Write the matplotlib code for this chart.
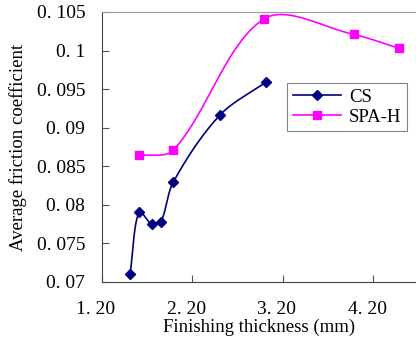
import numpy as np
import matplotlib
matplotlib.use("Agg")
import matplotlib.pyplot as plt
from matplotlib.transforms import ScaledTranslation

# data
cs_x = [1.51, 1.61, 1.75, 1.85, 1.99, 2.50, 3.01]
cs_y = [0.0710, 0.0791, 0.0775, 0.0778, 0.0830, 0.0916, 0.0959]
spa_x = [1.61, 1.99, 2.99, 3.98, 4.48]
spa_y = [0.0864, 0.0871, 0.1041, 0.1021, 0.1003]

xticks = [1.2, 2.2, 3.2, 4.2]
xtick_labels = ["1. 20", "2. 20", "3. 20", "4. 20"]
yticks = [0.07, 0.075, 0.08, 0.085, 0.09, 0.095, 0.1, 0.105]
ytick_labels = ["0. 07", "0. 075", "0. 08", "0. 085", "0. 09", "0. 095", "0. 1", "0. 105"]

XLIM = (1.2, 4.67)
YLIM = (0.07, 0.105)


def smooth(xs, ys, n=40):
    # bezier smoothing in screen space, tangents weighted by segment length
    sx = (XLIM[1] - XLIM[0]) / 314.0
    sy = (YLIM[1] - YLIM[0]) / 270.0
    p = np.column_stack([(np.array(xs) - XLIM[0]) / sx, (np.array(ys) - YLIM[0]) / sy])
    p = np.vstack([p[0], p, p[-1]])
    d = np.linalg.norm(np.diff(p, axis=0), axis=1)
    out = []
    t = np.linspace(0, 1, n)[:, None]
    for i in range(1, len(p) - 2):
        p0, p1, p2, p3 = p[i - 1], p[i], p[i + 1], p[i + 2]
        d01, d12, d23 = d[i - 1], d[i], d[i + 1]
        c1 = p1 + (p2 - p0) * d12 / (d01 + d12) / 3
        c2 = p2 - (p3 - p1) * d12 / (d12 + d23) / 3
        seg = ((1 - t) ** 3 * p1 + 3 * (1 - t) ** 2 * t * c1
               + 3 * (1 - t) * t ** 2 * c2 + t ** 3 * p2)
        out.append(seg)
    out = np.vstack(out)
    return out[:, 0] * sx + XLIM[0], out[:, 1] * sy + YLIM[0]


plt.rcParams['font.family'] = ['Liberation Serif', 'DejaVu Serif']

fig = plt.figure(figsize=(4.16, 3.45), dpi=100)
ax = fig.add_axes([102 / 416, (345 - 282) / 345, 314 / 416, 270 / 345])

for xs, ys, col, mk, ms, lab in [(cs_x, cs_y, '#000080', 'D', 5, 'CS'),
                                 (spa_x, spa_y, '#FF00FF', 's', 6, 'SPA-H')]:
    lx, ly = smooth(xs, ys)
    ax.plot(lx, ly, color=col, lw=1.2)
    ax.plot(xs, ys, color=col, lw=0, marker=mk, ms=ms)
    ax.plot([], [], color=col, lw=1.2, marker=mk, ms=ms, label=lab)

ax.set_xlim(*XLIM)
ax.set_ylim(*YLIM)
ax.set_xticks(xticks)
ax.set_xticklabels(xtick_labels)
ax.set_yticks(yticks)
ax.set_yticklabels(ytick_labels)
ax.tick_params(direction='in', length=5, width=0.8, color='#555555', labelsize=14)
ax.tick_params(axis='y', pad=12)
ax.tick_params(axis='x', pad=14)
off = ScaledTranslation(-6 / 100, 0, fig.dpi_scale_trans)
for lbl in ax.get_xticklabels():
    lbl.set_transform(lbl.get_transform() + off)

ax.spines['right'].set_visible(False)
ax.spines['top'].set_color('#999999')
ax.spines['left'].set_color('#444444')
ax.spines['bottom'].set_color('#444444')

ax.set_xlabel("Finishing thickness (mm)", fontsize=13.5, labelpad=0)
ax.set_ylabel("Average friction coefficient", fontsize=13.5, labelpad=7)

leg = ax.legend(loc='upper left', bbox_to_anchor=((287 - 102) / 314, (282 - 83) / 270),
                fontsize=13.5, frameon=True, fancybox=False, edgecolor='#666666',
                borderpad=0.3, handlelength=2.6, labelspacing=0.15, handletextpad=0.4,
                borderaxespad=0)
leg.get_frame().set_linewidth(0.8)

fig.savefig("out.png", dpi=100)
